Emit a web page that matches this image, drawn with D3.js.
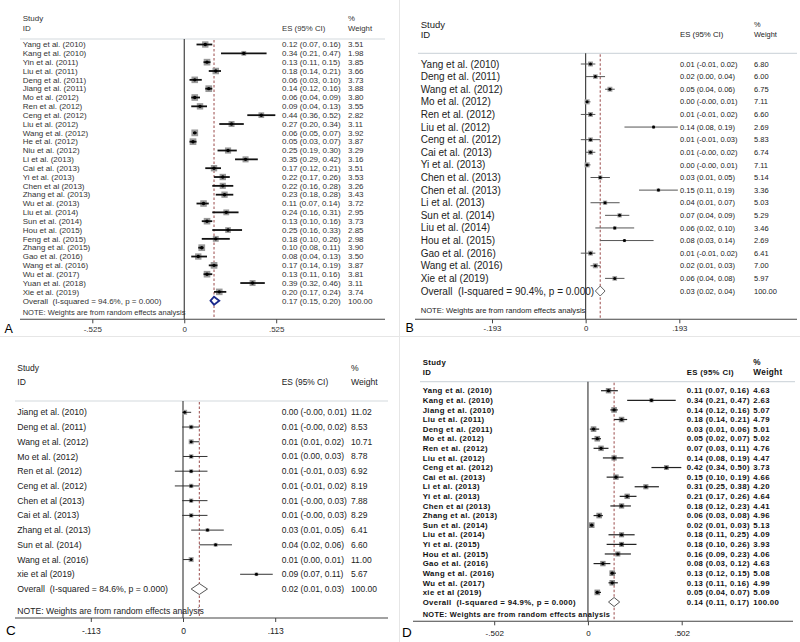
<!DOCTYPE html>
<html><head><meta charset="utf-8">
<script src="https://cdn.jsdelivr.net/npm/d3@7"></script>
<style>html,body{margin:0;padding:0;background:#fff;}svg{display:block;}</style>
</head><body>
<svg id="chart" width="800" height="642"></svg>
<script>
// ---------- Panel A data ----------
const aStudies = ["Yang et al. (2010)","Kang et al. (2010)","Yin et al. (2011)","Liu et al. (2011)","Deng et al. (2011)","Jiang et al. (2011)","Mo et al. (2012)","Ren et al. (2012)","Ceng et al. (2012)","Liu et al. (2012)","Wang et al. (2012)","He et al. (2012)","Niu et al. (2012)","Li et al. (2013)","Cai et al. (2013)","Yi et al. (2013)","Chen et al (2013)","Zhang et al. (2013)","Wu et al. (2013)","Liu et al. (2014)","Sun et al. (2014)","Hou et al. (2015)","Feng et al. (2015)","Zhang et al. (2015)","Gao et al. (2016)","Wang et al. (2016)","Wu et al. (2017)","Yuan et al. (2018)","Xie et al. (2019)"];
const aES = [0.12,0.34,0.13,0.18,0.06,0.14,0.06,0.09,0.44,0.27,0.06,0.05,0.25,0.35,0.17,0.22,0.22,0.23,0.11,0.24,0.13,0.25,0.18,0.10,0.08,0.17,0.13,0.39,0.20];
const aLo = [0.07,0.21,0.11,0.14,0.03,0.12,0.04,0.04,0.36,0.20,0.05,0.03,0.19,0.29,0.12,0.17,0.16,0.18,0.07,0.16,0.10,0.16,0.10,0.08,0.04,0.14,0.11,0.32,0.17];
const aHi = [0.16,0.47,0.15,0.21,0.10,0.16,0.09,0.13,0.52,0.34,0.07,0.07,0.30,0.42,0.21,0.26,0.28,0.28,0.14,0.31,0.16,0.33,0.26,0.11,0.13,0.19,0.16,0.46,0.24];
const aWt = [3.51,1.98,3.85,3.66,3.73,3.88,3.80,3.55,2.82,3.11,3.92,3.87,3.29,3.16,3.51,3.53,3.26,3.43,3.72,2.95,3.73,2.85,2.98,3.90,3.50,3.87,3.81,3.11,3.74];
const aOverall = [0.17,0.15,0.20];
const aI2 = "94.6%";
const aTicks = [-0.525,0,0.525];
const aTickLabels = ["-.525","0",".525"];

// ---------- Panel B data ----------
const bStudies = ["Yang et al. (2010)","Deng et al. (2011)","Wang et al. (2012)","Mo et al. (2012)","Ren et al. (2012)","Liu et al. (2012)","Ceng et al. (2012)","Cai et al. (2013)","Yi et al. (2013)","Chen et al. (2013)","Chen et al. (2013)","Li et al. (2013)","Sun et al. (2014)","Liu et al. (2014)","Hou et al. (2015)","Gao et al. (2016)","Wang et al. (2016)","Xie et al (2019)"];
const bES = [0.01,0.02,0.05,0.003,0.01,0.14,0.01,0.01,0.003,0.03,0.15,0.04,0.07,0.06,0.08,0.01,0.02,0.06];
const bLo = [-0.01,0.00,0.04,-0.001,-0.01,0.08,-0.01,-0.001,-0.001,0.01,0.11,0.01,0.04,0.02,0.03,-0.01,0.01,0.04];
const bHi = [0.02,0.04,0.06,0.01,0.02,0.19,0.03,0.02,0.01,0.05,0.19,0.07,0.09,0.10,0.14,0.02,0.03,0.08];
const bWt = [6.80,6.00,6.75,7.11,6.60,2.69,5.83,6.74,7.11,5.14,3.36,5.03,5.29,3.46,2.69,6.41,7.00,5.97];
const bOverall = [0.03,0.02,0.04];
const bI2 = "90.4%";
const bTicks = [-0.193,0,0.193];
const bTickLabels = ["-.193","0",".193"];

// ---------- Panel C data ----------
const cStudies = ["Jiang et al. (2010)","Deng et al. (2011)","Wang et al. (2012)","Mo et al. (2012)","Ren et al. (2012)","Ceng et al. (2012)","Chen et al (2013)","Cai et al. (2013)","Zhang et al. (2013)","Sun et al. (2014)","Wang et al. (2016)","xie et al (2019)"];
const cES = [0.002,0.01,0.01,0.01,0.01,0.01,0.01,0.01,0.03,0.04,0.01,0.09];
const cLo = [-0.001,-0.001,0.01,0.00,-0.01,-0.01,-0.001,-0.001,0.01,0.02,0.00,0.07];
const cHi = [0.01,0.02,0.02,0.03,0.03,0.02,0.03,0.03,0.05,0.06,0.01,0.11];
const cWt = [11.02,8.53,10.71,8.78,6.92,8.19,7.88,8.29,6.41,6.60,11.00,5.67];
const cOverall = [0.02,0.01,0.03];
const cI2 = "84.6%";
const cTicks = [-0.113,0,0.113];
const cTickLabels = ["-.113","0",".113"];

// ---------- Panel D data ----------
const dStudies = ["Yang et al. (2010)","Kang et al. (2010)","Jiang et al. (2010)","Liu et al. (2011)","Deng et al. (2011)","Mo et al. (2012)","Ren et al. (2012)","Liu et al. (2012)","Ceng et al. (2012)","Cai et al. (2013)","Li et al. (2013)","Yi et al. (2013)","Chen et al (2013)","Zhang et al. (2013)","Sun et al. (2014)","Liu et al. (2014)","Yi et al. (2015)","Hou et al. (2015)","Gao et al. (2016)","Wang et al. (2016)","Wu et al. (2017)","xie et al (2019)"];
const dES = [0.11,0.34,0.14,0.18,0.03,0.05,0.07,0.14,0.42,0.15,0.31,0.21,0.18,0.06,0.02,0.18,0.18,0.16,0.08,0.13,0.13,0.05];
const dLo = [0.07,0.21,0.12,0.14,0.01,0.02,0.03,0.08,0.34,0.10,0.25,0.17,0.12,0.03,0.01,0.11,0.10,0.09,0.03,0.12,0.11,0.04];
const dHi = [0.16,0.47,0.16,0.21,0.06,0.07,0.11,0.19,0.50,0.19,0.38,0.26,0.23,0.08,0.03,0.25,0.26,0.23,0.12,0.15,0.16,0.07];
const dWt = [4.63,2.63,5.07,4.79,5.01,5.02,4.76,4.47,3.73,4.66,4.20,4.64,4.41,4.96,5.13,4.09,3.93,4.06,4.63,5.08,4.99,5.09];
const dOverall = [0.14,0.11,0.17];
const dI2 = "94.9%";
const dTicks = [-0.502,0,0.502];
const dTickLabels = ["-.502","0",".502"];

// ---------- layout (positions / styles only) ----------
const layouts = [
  {letter:"A", studies:aStudies, es:aES, lo:aLo, hi:aHi, wt:aWt, overall:aOverall, i2:aI2, ticks:aTicks, tickLabels:aTickLabels,
   labelX:22.7, esX:282, wX:348, hy1:18, hy2:28.5, hl:39, lx0:20, lx1:385, y0:44.5, yO:300.7, noteY:312.7,
   axisY:319.3, ax0:20, ax1:385, tickLabelY:329.5, tx:[92.3,276.2], letterX:4.5, letterY:333, letterFont:12.5,
   font:8, weight:"normal", ls:0, esFont:8, headFont:8, esHeadFont:7.8, wHeadFont:7.8, noteFont:7.5, tickFont:8,
   textColor:"#333", k:3.4, boxFill:"#9a9a9a", ciColor:"#111", ciWidth:1.8, dot:1.7,
   diaH:4, diaStroke:"#1b2a8c", diaWidth:1.8, dashColor:"#9a4a4a"},
  {letter:"B", studies:bStudies, es:bES, lo:bLo, hi:bHi, wt:bWt, overall:bOverall, i2:bI2, ticks:bTicks, tickLabels:bTickLabels,
   labelX:420.7, esX:680, wX:754, hy1:24.3, hy2:34.5, hl:53.3, lx0:418, lx1:797, y0:64, yO:291, noteY:310,
   axisY:319.3, ax0:415, ax1:797, tickLabelY:328, tx:[492,679.3], letterX:405.5, letterY:332.3, letterFont:12.5,
   font:10, weight:"normal", ls:0, esFont:7.5, headFont:9.5, esHeadFont:7.8, wHeadFont:7.4, noteFont:7.6, tickFont:7.8,
   textColor:"#222", k:1.9, boxFill:"#a0a0a0", ciColor:"#555", ciWidth:1, dot:1.5,
   diaH:5, diaStroke:"#666", diaWidth:1, dashColor:"#9a4a4a"},
  {letter:"C", studies:cStudies, es:cES, lo:cLo, hi:cHi, wt:cWt, overall:cOverall, i2:cI2, ticks:cTicks, tickLabels:cTickLabels,
   labelX:17.3, esX:281.7, wX:351, hy1:367.7, hy2:382.3, hl:401, lx0:15, lx1:388, y0:412.3, yO:589, noteY:610.7,
   axisY:618, ax0:15, ax1:388, tickLabelY:630.7, tx:[90.8,275.2], letterX:6, letterY:634.7, letterFont:13.5,
   font:8.7, weight:"normal", ls:0, esFont:8.5, headFont:8.5, esHeadFont:8.4, wHeadFont:8.6, noteFont:8.6, tickFont:8.5,
   textColor:"#222", k:1.5, boxFill:"#a0a0a0", ciColor:"#333", ciWidth:1, dot:1.5,
   diaH:5.5, diaStroke:"#555", diaWidth:1, dashColor:"#9a4a4a"},
  {letter:"D", studies:dStudies, es:dES, lo:dLo, hi:dHi, wt:dWt, overall:dOverall, i2:dI2, ticks:dTicks, tickLabels:dTickLabels,
   labelX:422.7, esX:686.7, wX:753.3, hy1:362.3, hy2:372, hl:381.7, lx0:420, lx1:795, y0:390.7, yO:602, noteY:614.7,
   axisY:621.3, ax0:413, ax1:793, tickLabelY:633, tx:[494.2,681.7], letterX:402, letterY:637.3, letterFont:13.5,
   font:7.8, weight:"bold", ls:0.35, esFont:7.8, headFont:7.8, esHeadFont:7.8, wHeadFont:8.2, noteFont:7.4, tickFont:8,
   textColor:"#111", k:2.5, boxFill:"#8a8a8a", ciColor:"#222", ciWidth:1.2, dot:1.6,
   diaH:4.5, diaStroke:"#555", diaWidth:1, dashColor:"#9a4a4a"}
];

const svg = d3.select("#chart");
const FONT = "'Liberation Sans', Arial, Helvetica, sans-serif";

// light separators between panels
svg.append("line").attr("x1",399.5).attr("x2",399.5).attr("y1",0).attr("y2",642).attr("stroke","#e6e6e6").attr("stroke-width",1);
svg.append("line").attr("x1",0).attr("x2",800).attr("y1",336.5).attr("y2",336.5).attr("stroke","#e6e6e6").attr("stroke-width",1);

const fmt = v => v.toFixed(2);

layouts.forEach(L => {
  const g = svg.append("g").attr("font-family", FONT).attr("fill", L.textColor);
  const n = L.studies.length;
  const x = d3.scaleLinear().domain([L.ticks[0], L.ticks[2]]).range(L.tx);
  const y = d3.scaleLinear().domain([0, n]).range([L.y0, L.yO]);
  const rows = L.studies.map((s,i) => ({name:s, es:L.es[i], lo:L.lo[i], hi:L.hi[i], wt:L.wt[i], i}));

  const txt = (xx, yy, t, size, extra) => {
    const el = g.append("text").attr("x", xx).attr("y", yy).attr("dy","0.35em")
      .attr("font-size", size).attr("font-weight", L.weight).attr("letter-spacing", L.ls).text(t);
    return el;
  };

  // header
  txt(L.labelX, L.hy1, "Study", L.headFont);
  txt(L.labelX, L.hy2, "ID", L.headFont);
  txt(L.esX, L.hy2, "ES (95% CI)", L.esHeadFont);
  txt(L.wX, L.hy1, "%", L.wHeadFont);
  txt(L.wX, L.hy2, "Weight", L.wHeadFont);
  g.append("line").attr("x1",L.lx0).attr("x2",L.lx1).attr("y1",L.hl).attr("y2",L.hl)
    .attr("stroke","#d3d9de").attr("stroke-width",1.2);

  // zero line & overall dashed line
  g.append("line").attr("x1",x(0)).attr("x2",x(0)).attr("y1",L.hl).attr("y2",L.axisY)
    .attr("stroke","#333").attr("stroke-width",1.1);
  g.append("line").attr("x1",x(L.overall[0])).attr("x2",x(L.overall[0])).attr("y1",L.hl+1).attr("y2",L.axisY)
    .attr("stroke",L.dashColor).attr("stroke-width",1).attr("stroke-dasharray","2.5,2");

  // boxes
  g.selectAll(".box").data(rows).join("rect")
    .attr("x", d => x(d.es) - L.k*Math.sqrt(d.wt)/2)
    .attr("y", d => y(d.i) - L.k*Math.sqrt(d.wt)/2)
    .attr("width", d => L.k*Math.sqrt(d.wt))
    .attr("height", d => L.k*Math.sqrt(d.wt))
    .attr("fill", L.boxFill);
  // CI lines
  g.selectAll(".ci").data(rows).join("line")
    .attr("x1", d => x(d.lo)).attr("x2", d => x(d.hi))
    .attr("y1", d => y(d.i)).attr("y2", d => y(d.i))
    .attr("stroke", L.ciColor).attr("stroke-width", L.ciWidth);
  // dots
  g.selectAll(".dot").data(rows).join("circle")
    .attr("cx", d => x(d.es)).attr("cy", d => y(d.i)).attr("r", L.dot).attr("fill","#000");

  // study labels & values
  rows.forEach(d => {
    txt(L.labelX, y(d.i), d.name, L.font);
    txt(L.esX, y(d.i), `${fmt(d.es)} (${fmt(d.lo)}, ${fmt(d.hi)})`, L.esFont);
    txt(L.wX, y(d.i), fmt(d.wt), L.esFont);
  });

  // overall diamond
  const yo = y(n);
  const [oe, ol, oh] = L.overall;
  g.append("path")
    .attr("d", `M${x(ol)},${yo} L${x(oe)},${yo-L.diaH} L${x(oh)},${yo} L${x(oe)},${yo+L.diaH} Z`)
    .attr("fill","#fff").attr("stroke",L.diaStroke).attr("stroke-width",L.diaWidth);
  txt(L.labelX, yo, `Overall  (I-squared = ${L.i2}, p = 0.000)`, L.font).attr("xml:space","preserve");
  txt(L.esX, yo, `${fmt(oe)} (${fmt(ol)}, ${fmt(oh)})`, L.esFont);
  txt(L.wX, yo, "100.00", L.esFont);

  // note
  txt(L.labelX, L.noteY, "NOTE: Weights are from random effects analysis", L.noteFont);

  // axis
  g.append("line").attr("x1",L.ax0).attr("x2",L.ax1).attr("y1",L.axisY).attr("y2",L.axisY)
    .attr("stroke","#444").attr("stroke-width",1.1);
  const axis = d3.axisBottom(x).tickValues(L.ticks).tickSize(4)
    .tickFormat((v,i) => L.tickLabels[i]);
  const ag = g.append("g").attr("transform", `translate(0,${L.axisY})`).call(axis);
  ag.select(".domain").remove();
  ag.selectAll(".tick line").attr("stroke","#444");
  ag.selectAll(".tick text").attr("y", L.tickLabelY - L.axisY).attr("dy","0.35em")
    .attr("font-size", L.tickFont).attr("font-family", FONT).attr("fill", L.textColor)
    .attr("font-weight","normal");

  // panel letter
  g.append("text").attr("x", L.letterX).attr("y", L.letterY).attr("font-size", L.letterFont)
    .attr("fill","#000").text(L.letter);
});
</script>
</body></html>
